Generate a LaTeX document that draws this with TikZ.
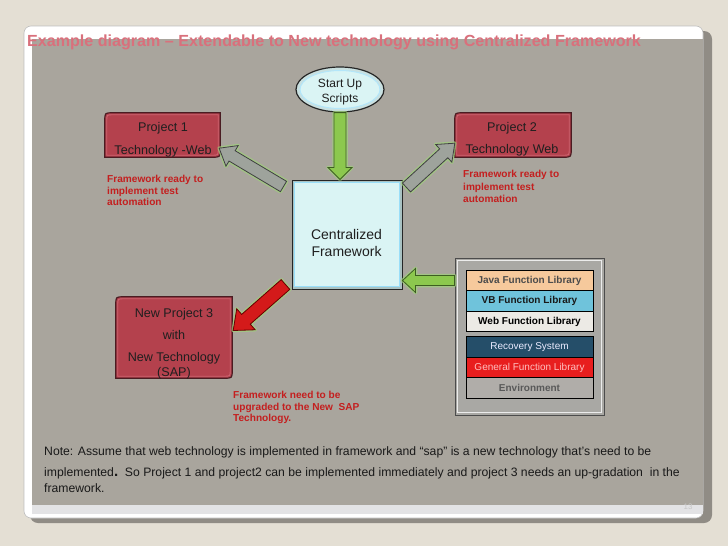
\documentclass[tikz,border=0pt]{standalone}
\usepackage{fontspec}
\setmainfont{Liberation Sans}
\usetikzlibrary{shapes.geometric,calc}
\definecolor{bgout}{HTML}{E4DFD4}
\definecolor{slidegray}{HTML}{A9A59D}
\definecolor{shadowc}{HTML}{908C85}
\definecolor{stripc}{HTML}{E3E3E5}
\definecolor{titlec}{HTML}{D9707C}
\definecolor{redtxt}{HTML}{C41F1F}
\definecolor{projfill}{HTML}{B4414D}
\definecolor{projline}{HTML}{4A1C22}
\definecolor{projhi}{HTML}{CC6470}
\definecolor{cyanfill}{HTML}{DAF4F4}
\definecolor{cyanedge}{HTML}{A9C2C2}
\definecolor{greenfill}{HTML}{8CC84E}
\definecolor{greenline}{HTML}{3E5E22}
\definecolor{grayarrow}{HTML}{9EA39C}
\definecolor{redarrow}{HTML}{D41A1A}
\definecolor{glow}{HTML}{9FD27A}
\definecolor{javac}{HTML}{F6C99C}
\definecolor{vbc}{HTML}{6FC3DB}
\definecolor{webc}{HTML}{ECEAE5}
\definecolor{recc}{HTML}{254E69}
\definecolor{genc}{HTML}{E81E1E}
\definecolor{envc}{HTML}{B0ADA9}
\definecolor{libfill}{HTML}{A9A8A4}

\tikzset{
  lbl/.style={inner sep=0pt, align=center, text=black!88},
  redlbl/.style={inner sep=0pt, align=left, anchor=north west, text=redtxt,
    font=\bfseries\fontsize{10.1}{11.5}\selectfont},
  frame/.style={inner sep=0pt, minimum width=#1},
  projbox/.style={fill=projfill, draw=projline, line width=1.2pt},
  projinner/.style={draw=projhi, line width=0.8pt},
  librow/.style={draw=black, line width=0.8pt, minimum width=127pt, minimum height=20.5pt,
    inner sep=0pt, font=\bfseries\fontsize{10}{12}\selectfont},
  arrowglow/.style={draw=glow, line width=3.5pt, line join=round, opacity=0.7},
  greenarrow/.style={fill=greenfill, draw=greenline, line width=0.8pt, line join=miter},
  grayarr/.style={fill=grayarrow, draw=black!75, line width=0.8pt, line join=miter},
  redarr/.style={fill=redarrow, draw=red!40!black, line width=0.8pt, line join=miter},
}

% block arrow: from, to, style, shaft half width, head half width, head length
\newcommand\blockarrow[6]{%
  \coordinate (ba-base) at ($(#2)!#6!(#1)$);
  \path[arrowglow] ($(#1)!#4!90:(#2)$) -- ($(ba-base)!#4!90:(#2)$) -- ($(ba-base)!#5!90:(#2)$) -- (#2)
     -- ($(ba-base)!#5!-90:(#2)$) -- ($(ba-base)!#4!-90:(#2)$) -- ($(#1)!#4!-90:(#2)$) -- cycle;
  \path[#3] ($(#1)!#4!90:(#2)$) -- ($(ba-base)!#4!90:(#2)$) -- ($(ba-base)!#5!90:(#2)$) -- (#2)
     -- ($(ba-base)!#5!-90:(#2)$) -- ($(ba-base)!#4!-90:(#2)$) -- ($(#1)!#4!-90:(#2)$) -- cycle;
}
% project frame with rounded top-left and bottom-right corners (canvas coordinates)
\newcommand\projframe[1]{%
  \draw[projbox] let \p1=(#1.south west), \p2=(#1.north east) in
    (\x1,\y1) -- (\x1,\y2-8pt) .. controls (\x1,\y2) .. (\x1+8pt,\y2) -- (\x2,\y2)
    -- (\x2,\y1+8pt) .. controls (\x2,\y1) .. (\x2-8pt,\y1) -- cycle;
  \draw[projinner] let \p1=(#1.south west), \p2=(#1.north east) in
    (\x1+2pt,\y1+2pt) -- (\x1+2pt,\y2-8pt) .. controls (\x1+2pt,\y2-2pt) .. (\x1+8pt,\y2-2pt) -- (\x2-2pt,\y2-2pt)
    -- (\x2-2pt,\y1+8pt) .. controls (\x2-2pt,\y1+2pt) .. (\x2-8pt,\y1+2pt) -- cycle;
}

\begin{document}
\begin{tikzpicture}[x=1pt,y=-1pt]
\useasboundingbox (0,0) rectangle (728,546);
% slide background
\fill[bgout] (0,0) rectangle (728,546);
\fill[shadowc, rounded corners=8pt] (30,31) rectangle (712,523);
\fill[white, rounded corners=7pt] (24,26) rectangle (703,518);
\draw[black!25, line width=0.6pt, rounded corners=7pt] (24,26) rectangle (703,518);
\fill[stripc] (32,505) rectangle (703,514);
\fill[slidegray] (32,39) rectangle (703,505);

% title
\node[anchor=west, inner sep=0pt, text=titlec, font=\bfseries\fontsize{16.1}{19}\selectfont] (title) at (27,42)
  {Example diagram – Extendable to New technology using Centralized Framework};

% start up scripts
\node[ellipse, fill=cyanfill!92!black, draw=black!85, line width=1.2pt, minimum width=88pt, minimum height=45pt,
  inner sep=0pt] (ss) at (340,89.5) {};
\fill[cyanfill, draw=white!70!cyan, line width=1pt] (ss.center) ellipse [x radius=40, y radius=19];
\node[lbl, font=\fontsize{12}{15}\selectfont] (sst) at (340,92) {Start Up\\Scripts};

% centralized framework
\node[frame=110pt, minimum height=109pt, fill=cyanedge, draw=black!85, line width=1pt] (cf) at (347,234.5) {};
\fill[cyanfill, draw=white!60!cyan, line width=0.8pt] ($(cf.south west)+(3,-3)$) rectangle ($(cf.north east)+(-3,3)$);
\node[lbl, font=\fontsize{14}{17}\selectfont] (cft) at (346.5,243) {Centralized\\Framework};

% projects
\node[frame=115pt, minimum height=44pt] (p1) at (162.5,135) {};
\projframe{p1}
\node[lbl, font=\fontsize{12.6}{23}\selectfont] (p1t) at (163,140) {Project 1\\Technology -Web};
\node[frame=116pt, minimum height=44pt] (p2) at (513,135) {};
\projframe{p2}
\node[lbl, font=\fontsize{12.6}{22}\selectfont] (p2t) at (512,139.5) {Project 2\\Technology Web};
\node[frame=116pt, minimum height=81pt] (p3) at (174,337.5) {};
\projframe{p3}
\node[lbl, font=\fontsize{12.6}{22}\selectfont] (p3t) at (174,344) {New Project 3\\with\\New Technology\\[-7pt](SAP)};

% red notes
\node[redlbl] (r1) at (107,175.2) {Framework ready to\\implement test\\automation};
\node[redlbl, font=\bfseries\fontsize{10.1}{12.4}\selectfont] (r2) at (463,170.2) {Framework ready to\\implement test\\automation};
\node[redlbl] (r3) at (233,391.2) {Framework need to be\\upgraded to the New\ \ SAP\\Technology.};

% library panel
\node[frame=149pt, minimum height=157pt, fill=libfill, draw=black!70, line width=1pt] (lib) at (529.5,336.5) {};
\draw[white!85!gray, line width=1.2pt] ($(lib.south west)+(3,-3)$) rectangle ($(lib.north east)+(-3,3)$);
\node[librow, fill=javac, text=black!70] (java) at (529.5,280.5) {Java Function Library};
\node[librow, fill=vbc, text=black!90] (vb) at (529.5,301) {VB Function Library};
\node[librow, fill=webc, text=black] (web) at (529.5,321.5) {Web Function Library};
\node[librow, fill=recc, text=white!92!blue, font=\fontsize{10}{12}\selectfont] (rec) at (529.5,347) {Recovery System};
\node[librow, fill=genc, text=red!25!white, font=\fontsize{10}{12}\selectfont] (gen) at (529.5,367.5) {General Function Library};
\node[librow, fill=envc, text=black!65] (env) at (529.5,388) {Environment};

% connectors
\coordinate (gd1) at (ss.south);
\coordinate (gd2) at (ss.south |- cf.north);
\blockarrow{gd1}{gd2}{greenarrow}{6pt}{12pt}{12pt}
\coordinate (gl1) at (java.center -| lib.west);
\coordinate (gl2) at (java.center -| cf.east);
\blockarrow{gl1}{gl2}{greenarrow}{5pt}{12pt}{13pt}
\coordinate (a1s) at ($(cf.north west)+(-8,7)$);
\coordinate (a1e) at ($(p1.south east)+(-1,-9)$);
\blockarrow{a1s}{a1e}{grayarr}{6pt}{12pt}{15pt}
\coordinate (a2s) at ($(cf.north east)+(4,8)$);
\coordinate (a2e) at ($(p2.south west)+(0,-14)$);
\blockarrow{a2s}{a2e}{grayarr}{6pt}{12pt}{15pt}
\coordinate (a3s) at ($(cf.south west)+(-6,-5)$);
\coordinate (a3e) at ($(p3.east)+(1,-7)$);
\blockarrow{a3s}{a3e}{redarr}{6.5pt}{14pt}{17pt}

% note
\node[inner sep=0pt, anchor=north west, align=left, text=black!90, font=\fontsize{12.2}{16}\selectfont] (note) at (44,446)
  {Note: Assume that web technology is implemented in framework and “sap” is a new technology that’s need to be\\[5pt]
   implemented{\bfseries\fontsize{15}{16}\selectfont .}\ \ So Project 1 and project2 can be implemented immediately and project 3 needs an up-gradation\ \ in the\\
   framework.};

% page number
\node[inner sep=0pt, text=black!22, font=\fontsize{8}{9}\selectfont] (pg) at (688,507) {13};
\end{tikzpicture}
\end{document}
